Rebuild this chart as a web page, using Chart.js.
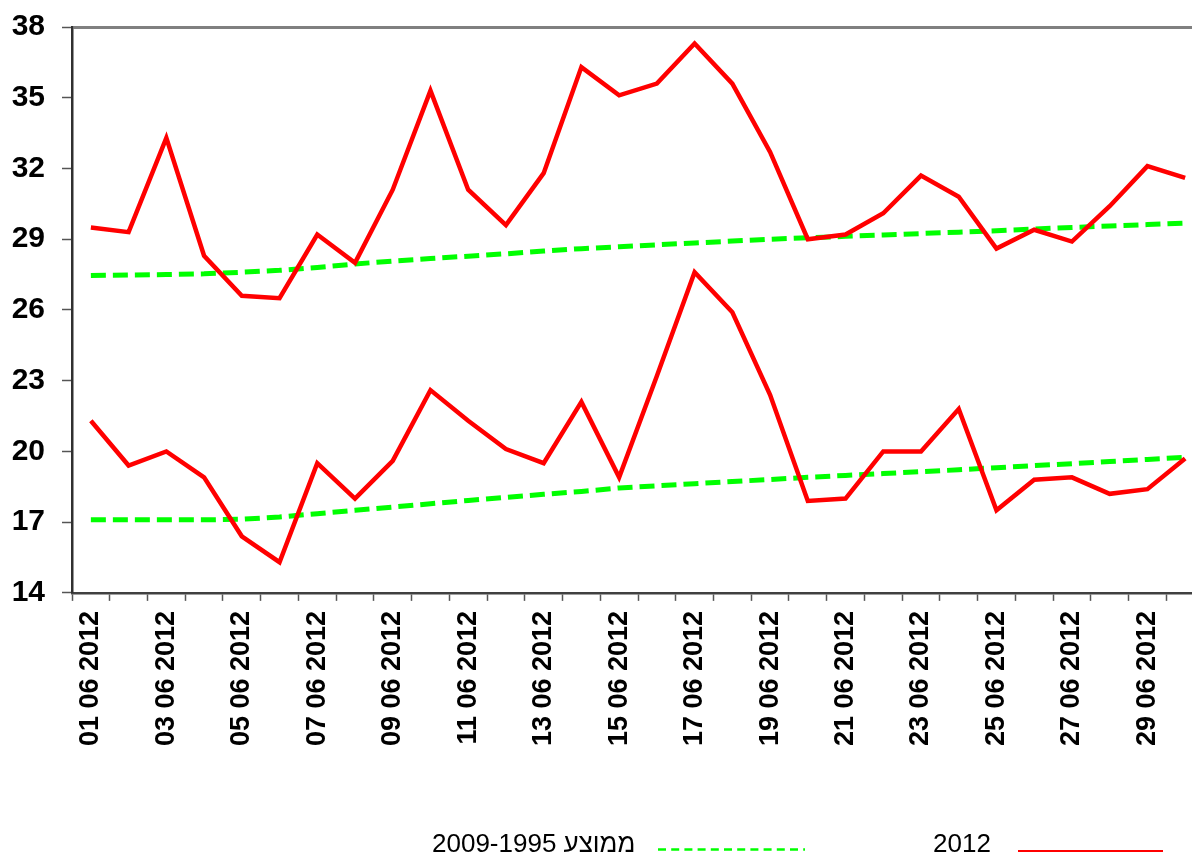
<!DOCTYPE html>
<html>
<head>
<meta charset="utf-8">
<script src="https://cdn.jsdelivr.net/npm/chart.js@4"></script>
<style>
  html, body { margin: 0; padding: 0; background: #fff; overflow: hidden; }
  #wrap { position: relative; width: 1230px; height: 855px; }
</style>
</head>
<body>
<div id="wrap"><canvas id="chart" width="1230" height="855"></canvas></div>
<script>
const days = [
  "01 06 2012", "02 06 2012", "03 06 2012", "04 06 2012", "05 06 2012",
  "06 06 2012", "07 06 2012", "08 06 2012", "09 06 2012", "10 06 2012",
  "11 06 2012", "12 06 2012", "13 06 2012", "14 06 2012", "15 06 2012",
  "16 06 2012", "17 06 2012", "18 06 2012", "19 06 2012", "20 06 2012",
  "21 06 2012", "22 06 2012", "23 06 2012", "24 06 2012", "25 06 2012",
  "26 06 2012", "27 06 2012", "28 06 2012", "29 06 2012", "30 06 2012",
];

// 2012 daily max / min
const max2012 = [29.5, 29.3, 33.3, 28.3, 26.6, 26.5, 29.2, 28.0, 31.1, 35.3,
  31.1, 29.6, 31.8, 36.3, 35.1, 35.6, 37.3, 35.6, 32.7, 29.0,
  29.2, 30.1, 31.7, 30.8, 28.6, 29.4, 28.9, 30.4, 32.1, 31.6];
const min2012 = [21.3, 19.4, 20.0, 18.9, 16.4, 15.3, 19.5, 18.0, 19.6, 22.6,
  21.3, 20.1, 19.5, 22.1, 18.9, 23.2, 27.6, 25.9, 22.4, 17.9,
  18.0, 20.0, 20.0, 21.8, 17.5, 18.8, 18.9, 18.2, 18.4, 19.7];

// 1995-2009 average max / min
const avgMax = [27.46, 27.48, 27.5, 27.53, 27.6, 27.68, 27.8, 27.95, 28.07, 28.18,
  28.28, 28.38, 28.5, 28.6, 28.68, 28.76, 28.84, 28.92, 29.0, 29.06,
  29.12, 29.18, 29.24, 29.3, 29.36, 29.43, 29.5, 29.56, 29.62, 29.68];
const avgMin = [17.1, 17.1, 17.1, 17.1, 17.12, 17.22, 17.36, 17.5, 17.64, 17.78,
  17.92, 18.05, 18.18, 18.3, 18.45, 18.54, 18.63, 18.72, 18.81, 18.9,
  18.98, 19.06, 19.14, 19.22, 19.31, 19.4, 19.48, 19.57, 19.66, 19.75];

const yTicks = [14, 17, 20, 23, 26, 29, 32, 35, 38];

const legendLabels = ["2012", "2009-1995 ממוצע"];

const RED = "#ff0000";
const GREEN = "#00ff00";

const redLine = (data) => ({
  data,
  borderColor: RED,
  borderWidth: 4.5,
  borderJoinStyle: "miter",
  pointRadius: 0,
  tension: 0,
  fill: false,
});

const greenLine = (data) => ({
  data,
  borderColor: GREEN,
  borderWidth: 5,
  borderDash: [15, 7],
  pointRadius: 0,
  tension: 0,
  fill: false,
});

// bottom legend, right to left like the original
const bottomLegend = {
  id: "bottomLegend",
  afterDraw(chart) {
    const ctx = chart.ctx;
    ctx.save();
    ctx.font = "26px 'Liberation Sans', Arial, sans-serif";
    ctx.fillStyle = "#000";
    ctx.textBaseline = "alphabetic";
    ctx.direction = "ltr";
    ctx.textAlign = "left";

    ctx.fillText(legendLabels[0], 933, 852);
    ctx.strokeStyle = RED;
    ctx.lineWidth = 2;
    ctx.beginPath();
    ctx.moveTo(1018, 851);
    ctx.lineTo(1163, 851);
    ctx.stroke();

    ctx.fillText(legendLabels[1], 432, 852);
    ctx.strokeStyle = GREEN;
    ctx.lineWidth = 2.5;
    ctx.setLineDash([8, 5.2]);
    ctx.beginPath();
    ctx.moveTo(658, 849.5);
    ctx.lineTo(805, 849.5);
    ctx.stroke();
    ctx.restore();
  },
};

new Chart(document.getElementById("chart"), {
  type: "line",
  data: {
    labels: days,
    datasets: [redLine(max2012), redLine(min2012), greenLine(avgMax), greenLine(avgMin)],
  },
  options: {
    responsive: false,
    animation: false,
    layout: { padding: { left: 8, top: 27, right: 26, bottom: 99 } },
    plugins: { legend: { display: false }, tooltip: { enabled: false } },
    scales: {
      x: {
        offset: true,
        grid: {
          offset: true,
          drawOnChartArea: false,
          tickLength: 8,
          tickColor: "#555",
          tickWidth: 1.5,
        },
        border: { color: "#404040", width: 2.5 },
        ticks: {
          autoSkip: false,
          maxRotation: 90,
          minRotation: 90,
          padding: 10,
          color: "#000",
          font: { family: "'Liberation Sans', Arial, sans-serif", size: 27, weight: "bold" },
          callback: (value, index) => (index % 2 === 0 ? days[index] : ""),
        },
      },
      y: {
        min: 14,
        max: 38,
        afterBuildTicks: (axis) => {
          axis.ticks = yTicks.map((v) => ({ value: v }));
        },
        afterFit: (axis) => {
          axis.width = 64;
          axis.paddingTop = 0;
          axis.paddingBottom = 0;
        },
        grid: {
          drawOnChartArea: true,
          color: (c) => (c.tick && c.tick.value === 38 ? "#808080" : "rgba(0,0,0,0)"),
          lineWidth: (c) => (c.tick && c.tick.value === 38 ? 3 : 1),
          tickLength: 10,
          tickColor: "#555",
          tickWidth: 1.5,
        },
        border: { color: "#303030", width: 2.5 },
        ticks: {
          padding: 17,
          color: "#000",
          font: { family: "'Liberation Sans', Arial, sans-serif", size: 30, weight: "bold" },
        },
      },
    },
  },
  plugins: [bottomLegend],
});
</script>
</body>
</html>
